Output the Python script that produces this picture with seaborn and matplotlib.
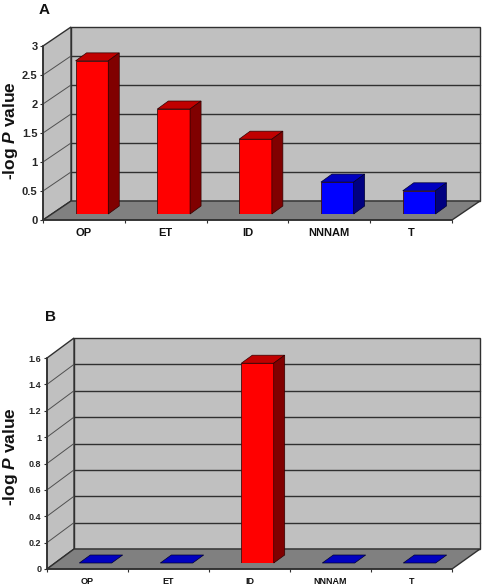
import matplotlib
matplotlib.use("Agg")
import matplotlib.pyplot as plt
import seaborn as sns
from matplotlib.patches import Polygon
from matplotlib.ticker import FuncFormatter

categories = ["OP", "ET", "ID", "NNNAM", "T"]
values_a = [2.64, 1.81, 1.29, 0.55, 0.40]
values_b = [0, 0, 1.515, 0, 0]
colors_a = ["#ff0000", "#ff0000", "#ff0000", "#0000ff", "#0000ff"]
colors_b = ["#0000ff", "#0000ff", "#ff0000", "#0000ff", "#0000ff"]
ticks_a = [0, 0.5, 1, 1.5, 2, 2.5, 3]
ticks_b = [0, 0.2, 0.4, 0.6, 0.8, 1, 1.2, 1.4, 1.6]

sns.set_style("white")
plt.rcParams["font.family"] = ["Liberation Sans", "DejaVu Sans"]
plt.rcParams["mathtext.fontset"] = "custom"
plt.rcParams["mathtext.bfit"] = "Liberation Sans:italic:bold"
plt.rcParams["mathtext.rm"] = "Liberation Sans:bold"

W, H = 484, 588
SHADE = {"#ff0000": ("#c00000", "#800000"), "#0000ff": ("#0000c0", "#000080")}
fig = plt.figure(figsize=(W / 100, H / 100), dpi=100, facecolor="white")


def panel(values, colors, ticks, letter, letter_xy, left, right, y0, ytop, wall_dx, wall_dy,
          bar_dx, bar_dy, depth_x, depth_y, right_back, fs, label_y):
    width, height = right - left, y0 - ytop
    ax = fig.add_axes([left / W, 1 - y0 / H, width / W, height / H])
    ymax = ticks[-1]
    ax.set_xlim(-0.5, 4.5)
    ax.set_ylim(0, ymax)
    ux, uy = 5 / width, ymax / height          # data units per pixel
    dx, dy = wall_dx * ux, wall_dy * uy
    rb = -0.5 + (right_back - left) * ux
    edge = "#303030"
    ax.patch.set_visible(False)
    # walls and floor
    ax.add_patch(Polygon([(-0.5 + dx, dy), (rb, dy), (rb, ymax + dy), (-0.5 + dx, ymax + dy)],
                         fc="#c0c0c0", ec=edge, lw=1, clip_on=False, zorder=1))
    ax.add_patch(Polygon([(-0.5, 0), (-0.5 + dx, dy), (-0.5 + dx, ymax + dy), (-0.5, ymax)],
                         fc="#c0c0c0", ec=edge, lw=1, clip_on=False, zorder=1))
    ax.add_patch(Polygon([(-0.5, 0), (4.5, 0), (rb, dy), (-0.5 + dx, dy)],
                         fc="#808080", ec=edge, lw=1, clip_on=False, zorder=2))
    for t in ticks[1:-1]:
        ax.plot([-0.5, -0.5 + dx], [t, t + dy], color="#505050", lw=0.7, clip_on=False, zorder=1.5)
        ax.plot([-0.5 + dx, rb], [t + dy, t + dy], color=edge, lw=1, clip_on=False, zorder=1.5)
    # axes furniture
    sns.despine(ax=ax, top=True, right=True)
    for s in ("left", "bottom"):
        ax.spines[s].set_color(edge)
        ax.spines[s].set_linewidth(1.2)
        ax.spines[s].set_zorder(3)
    ax.set_xticks(range(5))
    ax.set_xticklabels(categories, fontsize=fs, fontweight="bold", color="#111111")
    ax.set_xticks([-0.5, 0.5, 1.5, 2.5, 3.5, 4.5], minor=True)
    ax.tick_params(axis="x", which="major", length=0, pad=6)
    ax.tick_params(axis="x", which="minor", length=2.5, width=0.8, color=edge, bottom=True)
    ax.set_yticks(ticks)
    ax.yaxis.set_major_formatter(FuncFormatter(lambda v, _: f"{v:g}"))
    ax.tick_params(axis="y", length=2.5, width=0.8, color=edge, left=True, pad=1.5, labelsize=fs)
    for lab in ax.get_yticklabels():
        lab.set_fontweight("bold")
    ax.set_ylabel(r"-log $\mathbfit{P}$ value", fontsize=12.5, fontweight="bold", color="#111111")
    ax.yaxis.set_label_coords((20 - left) / width, (y0 - label_y) / height)

    # bars, on an overlay axes set back inside the floor
    bx = fig.add_axes([(left + bar_dx) / W, 1 - (y0 - bar_dy) / H, width / W, height / H])
    sns.barplot(x=categories, y=values, hue=categories, palette=colors, legend=False,
                width=0.4, ax=bx, edgecolor="#401010", linewidth=0.6, saturation=1, zorder=5)
    bx.set_xlim(-0.5, 4.5)
    bx.set_ylim(0, ymax)
    bx.axis("off")
    ddx, ddy = depth_x * ux, depth_y * uy
    for p, c in zip(bx.patches, colors):
        x0, w, h = p.get_x(), p.get_width(), p.get_height()
        top, side = SHADE[c]
        x1 = x0 + w
        bx.add_patch(Polygon([(x0, h), (x1, h), (x1 + ddx, h + ddy), (x0 + ddx, h + ddy)],
                             fc=top, ec="#300000" if c == "#ff0000" else "#000030", lw=0.5,
                             clip_on=False, zorder=6))
        if h > 0:
            bx.add_patch(Polygon([(x1, 0), (x1 + ddx, ddy), (x1 + ddx, h + ddy), (x1, h)],
                                 fc=side, ec="#300000" if c == "#ff0000" else "#000030", lw=0.5,
                                 clip_on=False, zorder=6))
    fig.text(letter_xy[0] / W, 1 - letter_xy[1] / H, letter, fontsize=11, fontweight="bold",
             ha="center", va="center", color="#111111")


panel(values_a, colors_a, ticks_a, "A", (44, 10), 43, 452, 220, 46, 28, 19, 8, 6, 11, 8, 480, 8.0, 131)
panel(values_b, colors_b, ticks_b, "B", (50, 317), 47, 452, 569, 358, 27, 20, 8, 6, 11, 8, 480, 6.5, 457)

fig.savefig("out.png", dpi=100)
